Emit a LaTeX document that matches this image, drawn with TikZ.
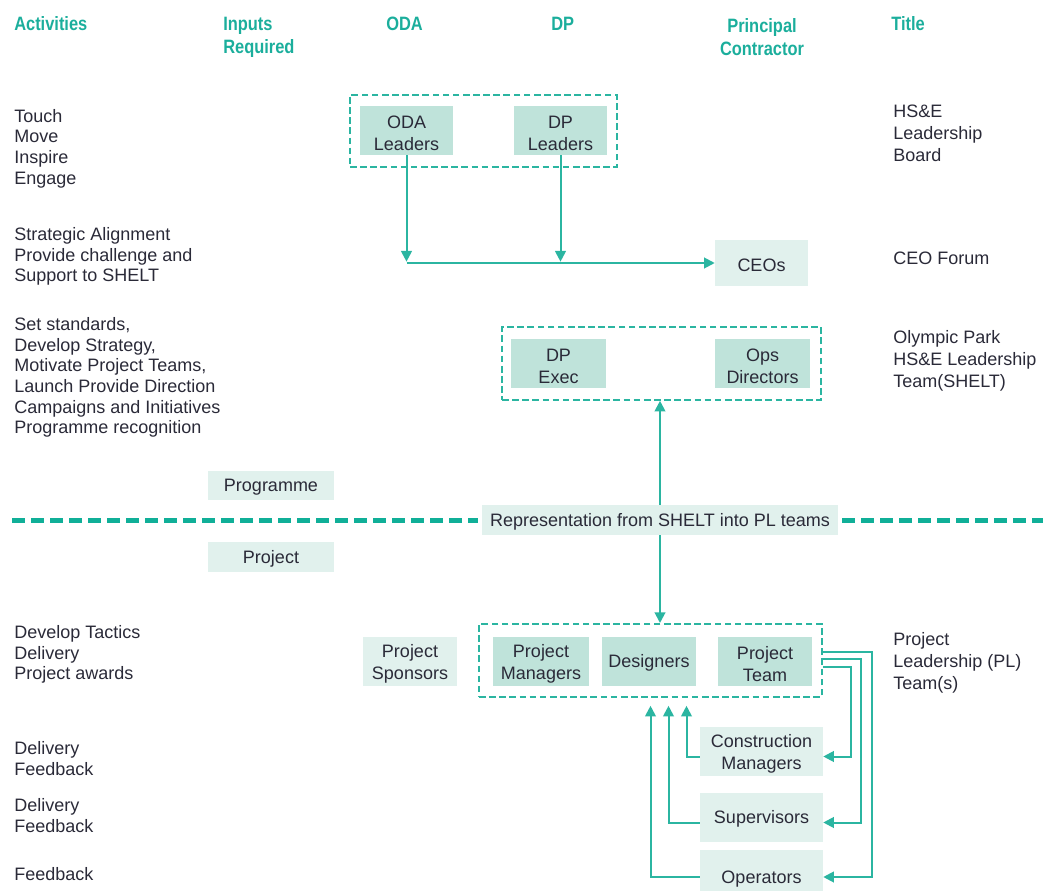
\documentclass[tikz,border=0pt]{standalone}
\usepackage{fontspec}
\setmainfont{Liberation Sans}
\newfontfamily\hdfont{Liberation Sans}[FakeStretch=0.85]
\usetikzlibrary{arrows.meta,calc}
\definecolor{hdteal}{HTML}{1BAE9C}
\definecolor{lnteal}{HTML}{2BB5A1}
\definecolor{sepc}{HTML}{10AF98}
\definecolor{boxmid}{HTML}{BFE3DA}
\definecolor{boxlite}{HTML}{E1F1ED}
\definecolor{ink}{HTML}{2A2A38}
% strut that lowers two-line box labels a little
\newcommand{\boxtop}{\rule{0pt}{14pt}}
\begin{document}
\begin{tikzpicture}[x=0.75pt,y=-0.75pt,
  txt/.style={font=\fontsize{13.5}{15.5}\selectfont, text=ink, align=left, anchor=west, inner sep=0pt},
  ttl/.style={txt, font=\fontsize{13.5}{16.6}\selectfont},
  hdr/.style={font=\hdfont\fontsize{14.5}{17.25}\selectfont\bfseries, text=hdteal, align=left, anchor=west, inner sep=0pt},
  box/.style={fill=boxmid, text=ink, font=\fontsize{13.5}{16.5}\selectfont, align=center, inner sep=0pt,
    minimum width={94*0.75pt}, minimum height={49*0.75pt}, execute at begin node={\rule{0pt}{12.2pt}}},
  litebox/.style={box, fill=boxlite},
  dbox/.style={draw=lnteal, line width=1.2pt, dash pattern=on 5pt off 2.6pt, inner sep=0pt},
  arr/.style={draw=lnteal, line width=1.5pt, -{Triangle[length=8pt,width=8pt]}},
  sepline/.style={draw=sepc, line width=3.75pt, dash pattern=on 9.75pt off 4.5pt}]
\clip (0,0) rectangle (1043,891);
\useasboundingbox (0,0) rectangle (1043,891);

% column headings
\node[hdr] (hAct) at (14,24) {Activities};
\node[hdr] (hIn) at (223,37.5) {Inputs\\Required};
\node[hdr] (hOda) at (386,24) {ODA};
\node[hdr] (hDp) at (551,24) {DP};
\node[hdr, anchor=center, align=center] (hPc) at (762,37) {Principal\\Contractor};
\node[hdr] (hTit) at (891,24) {Title};

% activities
\node[txt] (a1) at (14,148.5) {Touch\\Move\\Inspire\\Engage};
\node[txt] (a2) at (14,256.5) {Strategic Alignment\\Provide challenge and\\Support to SHELT};
\node[txt] (a3) at (14,377.5) {Set standards,\\Develop Strategy,\\Motivate Project Teams,\\Launch Provide Direction\\Campaigns and Initiatives\\Programme recognition};
\node[txt] (a4) at (14,654.5) {Develop Tactics\\Delivery\\Project awards};
\node[txt] (a5) at (14,758.5) {Delivery\\Feedback};
\node[txt] (a6) at (14,815.5) {Delivery\\Feedback};
\node[txt] (a7) at (14,874) {Feedback};

% titles
\node[ttl] (t1) at (893,133.5) {HS\&E\\Leadership\\Board};
\node[ttl] (t2) at (893,258) {CEO Forum};
\node[ttl] (t3) at (893,361) {Olympic Park\\HS\&E Leadership\\Team(SHELT)};
\node[ttl] (t4) at (893,662.5) {Project\\Leadership (PL)\\Team(s)};

% leadership board
\node[dbox, minimum width={267*0.75pt}, minimum height={72*0.75pt}] (g1) at (483.5,131) {};
\node[box, minimum width={93*0.75pt}] (oda) at (406.5,130.5) {\boxtop ODA\\Leaders};
\node[box, minimum width={93*0.75pt}] (dpl) at (560.5,130.5) {\boxtop DP\\Leaders};
\node[litebox, minimum width={93*0.75pt}, minimum height={46*0.75pt}] (ceo) at (761.5,263) {CEOs};

\draw[arr, shorten >=1pt] (oda.south) -- (oda.south |- ceo.west);
\draw[arr, shorten >=1pt] (dpl.south) -- (dpl.south |- ceo.west);
\draw[arr] (oda.south |- ceo.west) -- (ceo.west);

% SHELT
\node[dbox, minimum width={319*0.75pt}, minimum height={73*0.75pt}] (g2) at (661.5,363.5) {};
\node[box, minimum width={95*0.75pt}] (dpx) at (558.5,363.5) {\boxtop DP\\Exec};
\node[box, minimum width={95*0.75pt}] (ops) at (762.5,363.5) {\boxtop Ops\\Directors};

% programme / project split
\node[litebox, minimum width={126*0.75pt}, minimum height={29*0.75pt}] (prog) at (271,485.5) {Programme};
\node[litebox, minimum width={126*0.75pt}, minimum height={30*0.75pt}] (proj) at (271,557) {Project};
\node[litebox, minimum width={356*0.75pt}, minimum height={30*0.75pt}] (rep) at (660,520) {Representation from SHELT into PL teams};
\coordinate (sepL) at (12,520);
\coordinate (sepR) at (1043,520);
\draw[sepline, shorten >=3pt] (sepL) -- (rep.west);
\draw[sepline, shorten <=3pt] (rep.east) -- (sepR);

\draw[arr] (rep.north) -- (rep.north |- g2.south);
\draw[arr] (rep.south) -- (rep.south |- 0,623);

% project leadership team
\node[dbox, minimum width={343*0.75pt}, minimum height={73*0.75pt}] (g3) at (650.5,660.5) {};
\node[box, minimum width={96*0.75pt}] (pm) at (541,661.5) {\boxtop Project\\Managers};
\node[box] (des) at (649,661.5) {Designers};
\node[box] (pt) at (765,661.5) {\boxtop Project\\Team};
\node[litebox] (sp) at (410,661.5) {\boxtop Project\\Sponsors};

\node[litebox, minimum width={123*0.75pt}] (cm) at (761.5,751.5) {\boxtop Construction\\Managers};
\node[litebox, minimum width={123*0.75pt}] (sup) at (761.5,817.5) {Supervisors};
\node[litebox, minimum width={123*0.75pt}, minimum height={54*0.75pt}] (op) at (761.5,877) {Operators};

% feedback upwards
\draw[arr, shorten >=6pt] ($(cm.west)+(0,5)$) -| ($(g3.south)+(36,0)$);
\draw[arr, shorten >=6pt] ($(sup.west)+(0,5)$) -| ($(g3.south)+(18,0)$);
\draw[arr, shorten >=6pt] (op.west) -| (g3.south);

% direction downwards
\draw[arr] ($(g3.east)+(0,-8.5)$) -- ++(49,0) |- (op.east);
\draw[arr] ($(g3.east)+(0,-1.5)$) -- ++(38,0) |- ($(sup.east)+(0,5)$);
\draw[arr] ($(g3.east)+(0,6.5)$) -- ++(28,0) |- ($(cm.east)+(0,5)$);
\end{tikzpicture}
\end{document}
